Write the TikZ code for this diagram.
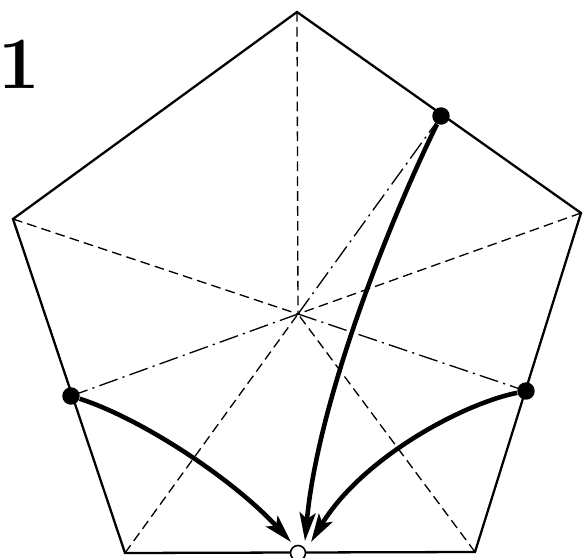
\documentclass[tikz,border=0pt]{standalone}
\usepackage{tikz}
\usetikzlibrary{arrows.meta}
\tikzset{
  edgeline/.style={line width=1.3pt, line join=miter},
  valley/.style={line width=0.75pt, dash pattern=on 5.5pt off 3pt},
  mountain/.style={line width=0.75pt, dash pattern=on 11pt off 3pt on 1.2pt off 3pt},
  foldarrow/.style={line width=2.6pt, -{Stealth[length=16pt,width=9pt,inset=3.5pt]}},
  pin/.style={circle, fill=black, inner sep=0pt, minimum size=0.35cm},
  hole/.style={circle, draw=black, fill=white, line width=0.9pt, inner sep=0pt, minimum size=0.3cm},
}

\begin{document}
\begin{tikzpicture}[x=0.02cm,y=-0.02cm]
\path[use as bounding box] (0,0) rectangle (583,558);
% corners and centre
\coordinate (top) at (297,12);
\coordinate (ul) at (13,219);
\coordinate (ur) at (581,213);
\coordinate (ll) at (125,553);
\coordinate (lr) at (475,552);
\coordinate (c) at (298,314);
% creases
\draw[valley] (top) -- (c);
\draw[valley] (ul) -- (c);
\draw[valley] (ur) -- (c);
\draw[valley] (ll) -- (c);
\draw[valley] (lr) -- (c);
\draw[mountain] (c) -- (441,116);
\draw[mountain] (c) -- (71,396);
\draw[mountain] (c) -- (526,391);
% outline
\draw[edgeline] (top) -- (ur) -- (lr) -- (ll) -- (ul) -- cycle;
% points
\node[pin] (pA) at (441,116) {};
\node[pin] (pB) at (71,396) {};
\node[pin] (pD) at (526,391) {};
\node[hole] (pE) at (298,553) {};
\coordinate (tipL) at (291,542);
\coordinate (tipM) at (305,541);
\coordinate (tipR) at (311,542);
% arrows
\draw[foldarrow] (pB) .. controls (140,418) and (232,478) .. (tipL);
\draw[foldarrow] (pA) .. controls (390,220) and (318,400) .. (tipM);
\draw[foldarrow] (pD) .. controls (462,404) and (362,458) .. (tipR);
\node[anchor=base, font=\fontsize{42}{42}\selectfont\bfseries] (step) at (19,88) {1};
\end{tikzpicture}
\end{document}
